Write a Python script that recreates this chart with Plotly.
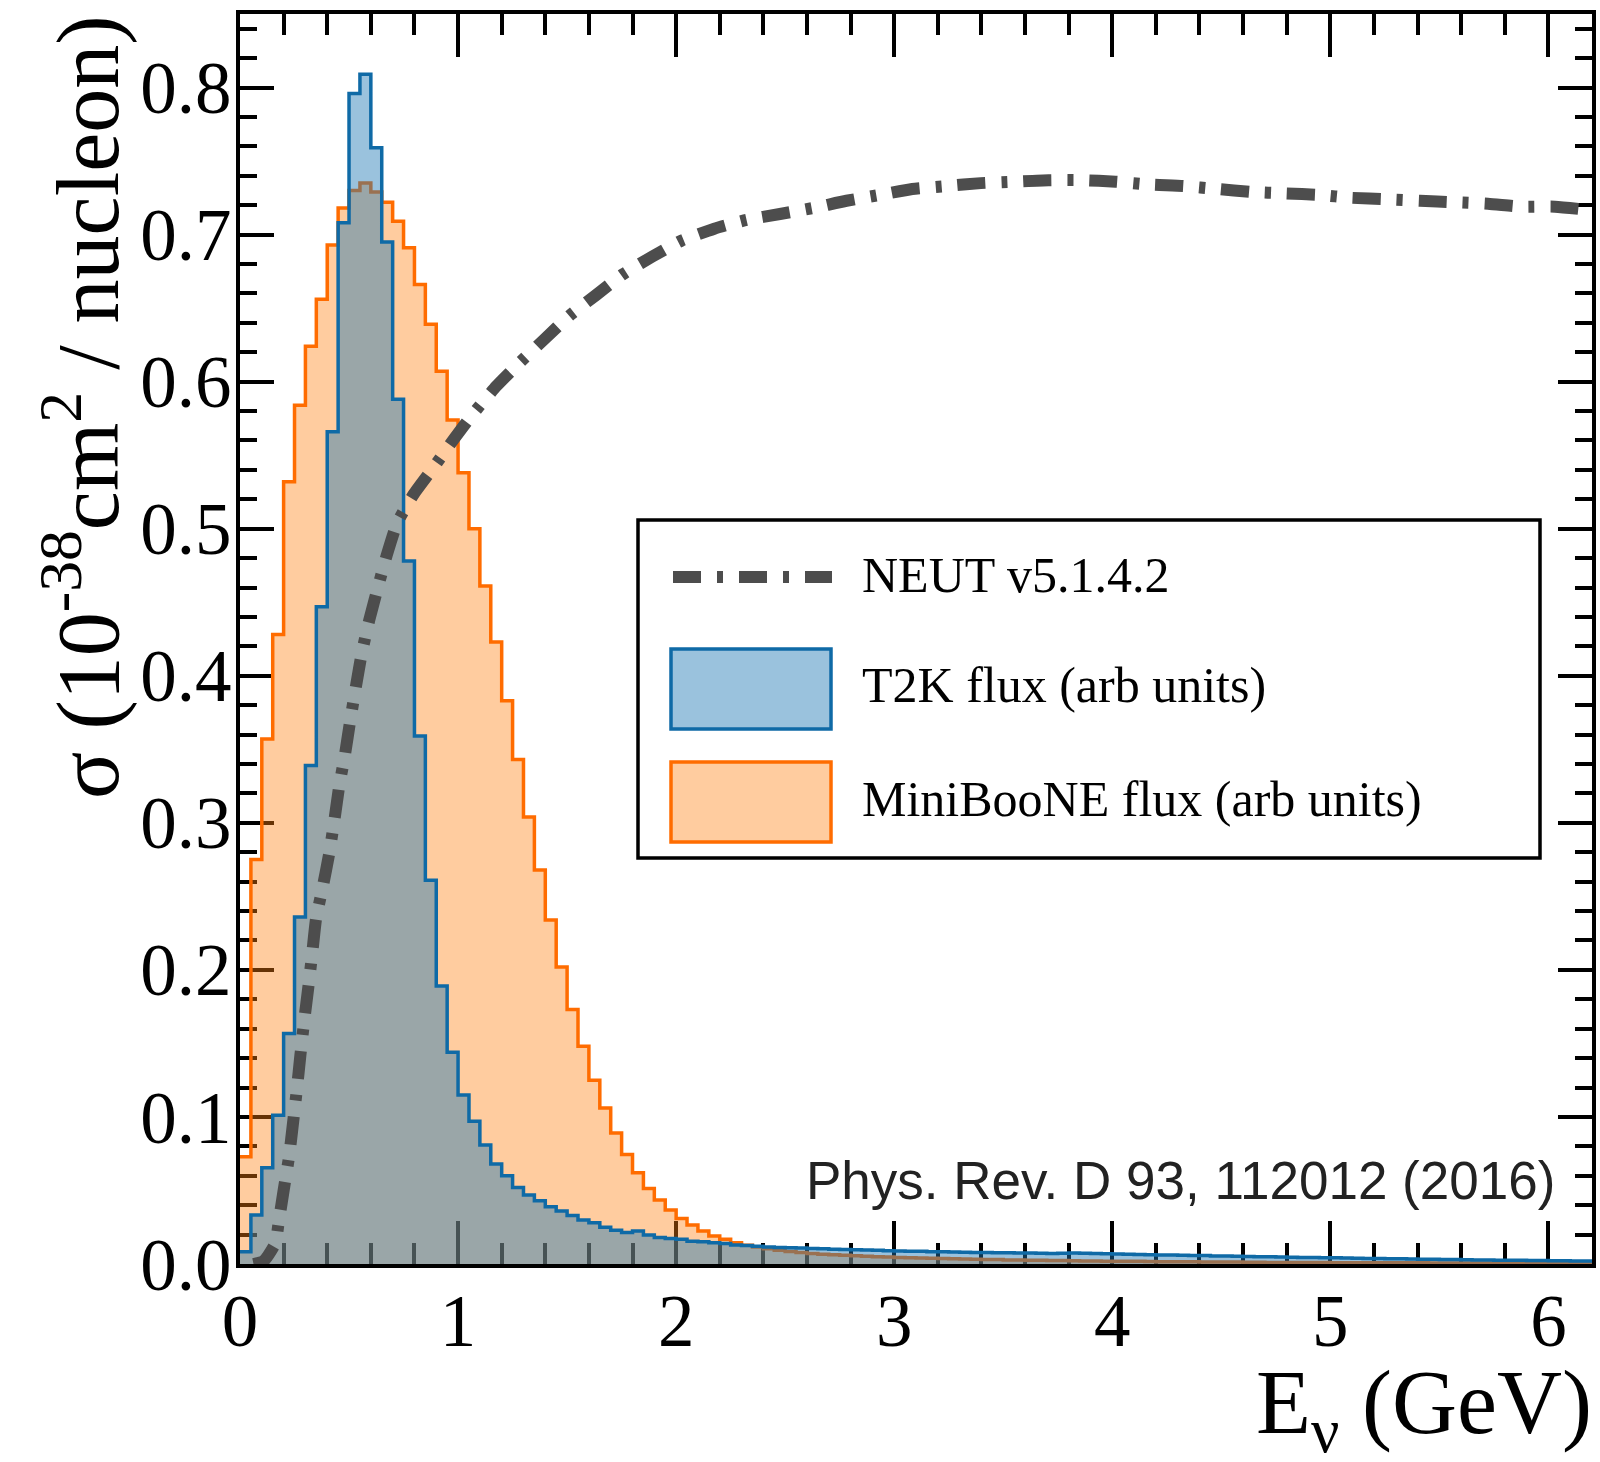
import plotly.graph_objects as go

# ---------------------------------------------------------------------------
# Data
# ---------------------------------------------------------------------------
bin_width = 0.05  # GeV, flux histogram binning (bins start at 0)

t2k_flux = [
    0.0084, 0.0333, 0.0655, 0.1012, 0.1567, 0.236, 0.339, 0.447, 0.566, 0.708,
    0.796, 0.809, 0.759, 0.695, 0.588, 0.478, 0.359, 0.261, 0.189, 0.144,
    0.115, 0.097, 0.081, 0.068, 0.060, 0.052, 0.047, 0.043, 0.039, 0.036,
    0.033, 0.030, 0.028, 0.025, 0.023, 0.0215, 0.0224, 0.0197, 0.018, 0.0174,
    0.0168, 0.0155, 0.0152, 0.0145, 0.0140, 0.0130, 0.0126, 0.0120, 0.0116, 0.0113,
    0.0110, 0.0108, 0.0106, 0.0104, 0.0101, 0.0099, 0.0097, 0.0095, 0.0093, 0.0090,
    0.0088, 0.0087, 0.0086, 0.0084, 0.0083, 0.0082, 0.0080, 0.0079, 0.0078, 0.0077,
    0.0076, 0.0075, 0.0074, 0.0073, 0.0072, 0.0073, 0.0074, 0.0073, 0.0071, 0.0069,
    0.0068, 0.0066, 0.0065, 0.0063, 0.0062, 0.0061, 0.0059, 0.0058, 0.0057, 0.0055,
    0.0054, 0.0053, 0.0051, 0.0050, 0.0049, 0.0047, 0.0046, 0.0045, 0.0044, 0.0043,
    0.0042, 0.0040, 0.0039, 0.0038, 0.0037, 0.0036, 0.0035, 0.0034, 0.0033, 0.0032,
    0.0031, 0.0030, 0.0029, 0.0028, 0.0027, 0.0026, 0.0026, 0.0025, 0.0024, 0.0023,
    0.0022, 0.0022, 0.0021, 0.0020,
]

miniboone_flux = [
    0.073, 0.275, 0.357, 0.428, 0.532, 0.584, 0.624, 0.656, 0.693, 0.718,
    0.730, 0.735, 0.729, 0.722, 0.709, 0.691, 0.666, 0.639, 0.607, 0.574,
    0.538, 0.500, 0.461, 0.423, 0.383, 0.343, 0.304, 0.268, 0.234, 0.202,
    0.173, 0.148, 0.125, 0.106, 0.089, 0.0745, 0.062, 0.0514, 0.0435, 0.0367,
    0.0310, 0.0265, 0.0224, 0.0190, 0.0168, 0.0145, 0.0128, 0.0115, 0.0103, 0.0093,
    0.0085, 0.0078, 0.0072, 0.0067, 0.0063, 0.0059, 0.0056, 0.0053, 0.0050, 0.0047,
    0.0045, 0.0043, 0.0041, 0.0039, 0.0037, 0.0035, 0.0034, 0.0032, 0.0031, 0.0030,
    0.0028, 0.0027, 0.0026, 0.0025, 0.0024, 0.0023, 0.0022, 0.0021, 0.0020, 0.0019,
    0.0019, 0.0018, 0.0018, 0.0017, 0.0016, 0.0016, 0.0015, 0.0015, 0.0014, 0.0014,
    0.0013, 0.0013, 0.0012, 0.0012, 0.0011, 0.0011, 0.0011, 0.0010, 0.0010, 0.0010,
    0.0009, 0.0009, 0.0009, 0.0009, 0.0008, 0.0008, 0.0008, 0.0008, 0.0008, 0.0007,
    0.0007, 0.0007, 0.0007, 0.0007, 0.0006, 0.0006, 0.0006, 0.0006, 0.0006, 0.0006,
    0.0005, 0.0005, 0.0005, 0.0005,
]

neut_energy = [
    0.062, 0.108, 0.162, 0.177, 0.200, 0.225, 0.244, 0.261, 0.277, 0.294,
    0.314, 0.331, 0.349, 0.379, 0.409, 0.433, 0.455, 0.482, 0.506, 0.532,
    0.558, 0.593, 0.634, 0.673, 0.721, 0.799, 0.889, 0.981, 1.068, 1.176,
    1.283, 1.397, 1.512, 1.634, 1.756, 1.890, 2.026, 2.175, 2.323, 2.476,
    2.625, 2.781, 2.934, 3.083, 3.238, 3.397, 3.550, 3.708, 3.861, 4.015,
    4.172, 4.326, 4.481, 4.635, 4.792, 4.948, 5.098, 5.256, 5.411, 5.569,
    5.723, 5.876, 6.030, 6.200,
]
neut_xsec = [
    0.000, 0.002, 0.014, 0.028, 0.050, 0.073, 0.097, 0.119, 0.142, 0.165,
    0.189, 0.211, 0.235, 0.256, 0.279, 0.302, 0.325, 0.347, 0.370, 0.393,
    0.415, 0.438, 0.461, 0.482, 0.504, 0.524, 0.542, 0.561, 0.578, 0.597,
    0.613, 0.629, 0.645, 0.659, 0.673, 0.685, 0.696, 0.704, 0.710, 0.714,
    0.718, 0.723, 0.727, 0.731, 0.733, 0.735, 0.736, 0.737, 0.737, 0.736,
    0.734, 0.733, 0.731, 0.729, 0.728, 0.727, 0.725, 0.724, 0.723, 0.722,
    0.721, 0.719, 0.719, 0.7165,
]

series_names = ["NEUT v5.1.4.2", "T2K flux (arb units)", "MiniBooNE flux (arb units)"]
citation = "Phys. Rev. D 93, 112012 (2016)"
x_title = "E<sub>ν</sub> (GeV)"
y_title = "σ (10<sup>-38</sup>cm<sup>2</sup> / nucleon)"

x_range = [0, 6.2]
y_range = [0, 0.85]

# ---------------------------------------------------------------------------
# Styling
# ---------------------------------------------------------------------------
W, H = 1600, 1462
L, R, T, B = 240, 8, 14, 198
PW, PH = W - L - R, H - T - B

SERIF = "Liberation Serif"
SANS = "Liberation Sans"

BLUE_LINE = "#0f6aa6"
BLUE_FILL = "rgba(31,119,180,0.45)"
ORANGE_LINE = "#ff6c00"
ORANGE_FILL = "rgba(255,127,14,0.40)"
NEUT_COLOR = "#4d4d4d"
NEUT_DASH = "28px,16px,6px,16px"


def px_x(p):
    """pixel column -> paper x"""
    return (p - L) / PW


def px_y(p):
    """pixel row -> paper y"""
    return (H - B - p) / PH


def step_points(values):
    edges = [round(i * bin_width, 4) for i in range(len(values) + 1)]
    return edges, list(values) + [values[-1]]


fig = go.Figure()

mb_x, mb_y = step_points(miniboone_flux)
fig.add_trace(go.Scatter(
    x=mb_x, y=mb_y, mode="lines", name=series_names[2],
    line=dict(shape="hv", color=ORANGE_LINE, width=3.5),
    fill="tozeroy", fillcolor=ORANGE_FILL, hoverinfo="skip",
))

t2k_x, t2k_y = step_points(t2k_flux)
fig.add_trace(go.Scatter(
    x=t2k_x, y=t2k_y, mode="lines", name=series_names[1],
    line=dict(shape="hv", color=BLUE_LINE, width=3.5),
    fill="tozeroy", fillcolor=BLUE_FILL, hoverinfo="skip",
))

fig.add_trace(go.Scatter(
    x=neut_energy, y=neut_xsec, mode="lines", name=series_names[0],
    line=dict(color=NEUT_COLOR, width=12, dash=NEUT_DASH,
              shape="spline", smoothing=0.5),
    hoverinfo="skip",
))

axis_common = dict(
    showgrid=False, zeroline=False,
    showline=True, linewidth=4, linecolor="black", mirror="ticks",
    ticks="inside", tickcolor="black", tickwidth=3.5,
    layer="below traces",
    tickfont=dict(family=SERIF, size=73, color="black"),
)

fig.update_xaxes(
    range=x_range, tick0=0, dtick=1, ticklen=43,
    minor=dict(dtick=0.2, ticks="inside", ticklen=21, tickwidth=3.5,
               tickcolor="black", showgrid=False),
    ticklabelstandoff=-10,
    **axis_common,
)
fig.update_yaxes(
    range=y_range, tick0=0, dtick=0.1, tickformat=".1f", ticklen=34,
    minor=dict(dtick=0.02, ticks="inside", ticklen=17, tickwidth=3.5,
               tickcolor="black", showgrid=False),
    ticklabelstandoff=-10,
    **axis_common,
)

# Legend box drawn by hand so the swatches can be large
shapes = [
    dict(type="rect", xref="paper", yref="paper",
         x0=px_x(638), x1=px_x(1540), y0=px_y(858), y1=px_y(520),
         line=dict(color="black", width=3.5), fillcolor="white"),
    dict(type="line", xref="paper", yref="paper",
         x0=px_x(673), x1=px_x(832), y0=px_y(577), y1=px_y(577),
         line=dict(color=NEUT_COLOR, width=12, dash=NEUT_DASH)),
    dict(type="rect", xref="paper", yref="paper",
         x0=px_x(671), x1=px_x(831), y0=px_y(729), y1=px_y(649),
         line=dict(color=BLUE_LINE, width=3.5), fillcolor=BLUE_FILL),
    dict(type="rect", xref="paper", yref="paper",
         x0=px_x(671), x1=px_x(831), y0=px_y(842), y1=px_y(762),
         line=dict(color=ORANGE_LINE, width=3.5), fillcolor=ORANGE_FILL),
]

annotations = []
for name, row in zip(series_names, [575, 685, 799]):
    annotations.append(dict(
        text=name, xref="paper", yref="paper", x=px_x(860), y=px_y(row),
        xanchor="left", yanchor="middle", showarrow=False,
        font=dict(family=SERIF, size=50, color="black"),
    ))

annotations.append(dict(
    text=citation, xref="paper", yref="paper", x=px_x(1557), y=px_y(1180),
    xanchor="right", yanchor="middle", showarrow=False,
    font=dict(family=SANS, size=53, color="#222222"),
))
annotations.append(dict(
    text=x_title, xref="paper", yref="paper", x=px_x(1594), y=px_y(1409),
    xanchor="right", yanchor="middle", showarrow=False,
    font=dict(family=SERIF, size=90, color="black"),
))
annotations.append(dict(
    text=y_title, xref="paper", yref="paper", x=px_x(81), y=px_y(407),
    xanchor="center", yanchor="middle", showarrow=False, textangle=-90,
    font=dict(family=SERIF, size=88, color="black"),
))

fig.update_layout(
    width=W, height=H,
    margin=dict(l=L, r=R, t=T, b=B, autoexpand=False),
    paper_bgcolor="white", plot_bgcolor="white",
    showlegend=False,
    shapes=shapes, annotations=annotations,
)

fig.write_html("out.html")
